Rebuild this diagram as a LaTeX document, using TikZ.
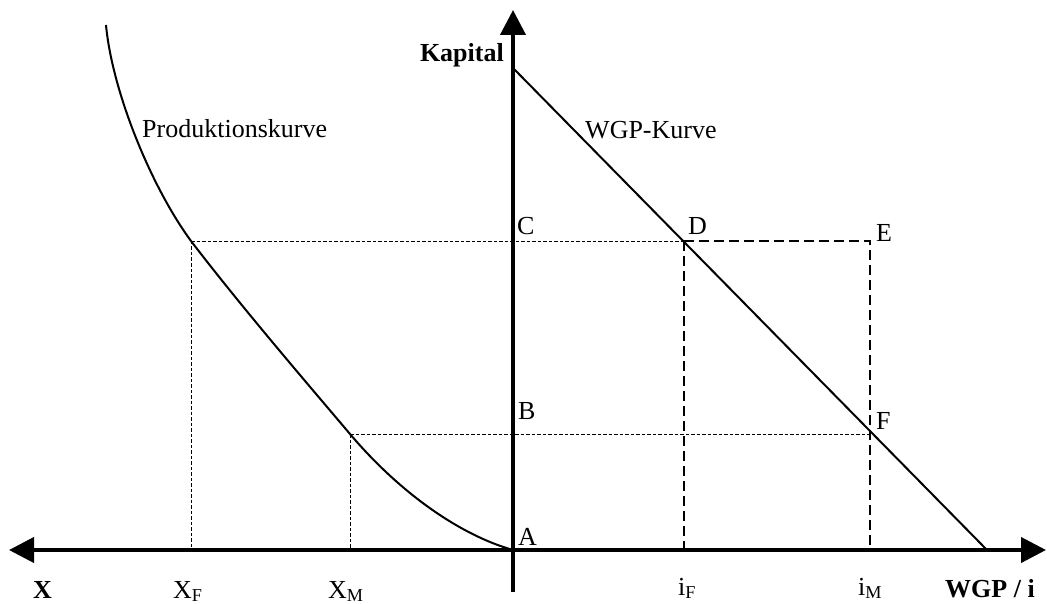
\documentclass[tikz,border=0pt]{standalone}
\usepackage{fontspec}
\setmainfont{Liberation Serif}
\usetikzlibrary{arrows.meta}
\begin{document}
\begin{tikzpicture}[x=1pt,y=-1pt,
  >={Triangle[length=25pt,width=25pt]},
  axis/.style={line width=4pt},
  curve/.style={line width=2pt},
  fine/.style={line width=0.9pt, dash pattern=on 3.5pt off 2pt},
  bold dash/.style={line width=2pt, dash pattern=on 10pt off 5pt},
  lbl/.style={inner sep=0pt, anchor=base west, font=\fontsize{26}{30}\selectfont},
  blbl/.style={lbl, font=\fontsize{26}{30}\selectfont\bfseries}]
\useasboundingbox (0,0) rectangle (1047,604);
% points
\coordinate (O) at (513,550);
\coordinate (Xend) at (9,550);
\coordinate (Wend) at (1046,550);
\coordinate (Kend) at (513,10);
\coordinate (Kbot) at (513,592);
\coordinate (K0) at (513,68);
\coordinate (W0) at (987,550);
\coordinate (P0) at (106,25);
\coordinate (PF) at (191,241);
\coordinate (PM) at (350,434);
\coordinate (D) at (684,241);
\coordinate (E) at (870,241);
\coordinate (F) at (871,434);
\coordinate (XF) at (191,550);
\coordinate (XM) at (350,550);
\coordinate (IF) at (684,550);
\coordinate (IM) at (870,550);
% helper lines
\draw[fine] (PF) -- (D);
\draw[fine] (PF) -- (XF);
\draw[fine] (PM) -- (F);
\draw[fine] (PM) -- (XM);
\draw[bold dash] (D) -- (E) -- (IM);
\draw[bold dash] (D) -- (IF);
% curves
\draw[curve] (K0) -- (W0);
\draw[curve] (P0) .. controls (112,90) and (150,185) .. (PF)
  .. controls (240,305) and (300,375) .. (PM)
  .. controls (400,493) and (460,535) .. (O);
% axes
\draw[axis, <->] (Xend) -- (Wend);
\draw[axis, ->] (Kbot) -- (Kend);
% labels
\node[blbl, anchor=base east] (kap) at (504,62) {Kapital};
\node[lbl] (prod) at (142,138) {Produktionskurve};
\node[lbl] (wgpk) at (585,139) {WGP-Kurve};
\node[lbl] (lC) at (517,235) {C};
\node[lbl] (lD) at (688,235) {D};
\node[lbl] (lE) at (876,242) {E};
\node[lbl] (lB) at (518,419) {B};
\node[lbl] (lF) at (876,429) {F};
\node[lbl] (lA) at (518,545) {A};
\node[blbl] (lX) at (33,598) {X};
\node[lbl] (lXF) at (173,598) {X\textsubscript{F}};
\node[lbl] (lXM) at (328,598) {X\textsubscript{M}};
\node[lbl] (liF) at (678,595) {i\textsubscript{F}};
\node[lbl] (liM) at (858,595) {i\textsubscript{M}};
\node[blbl] (lW) at (945,597) {WGP / i};
\end{tikzpicture}
\end{document}
